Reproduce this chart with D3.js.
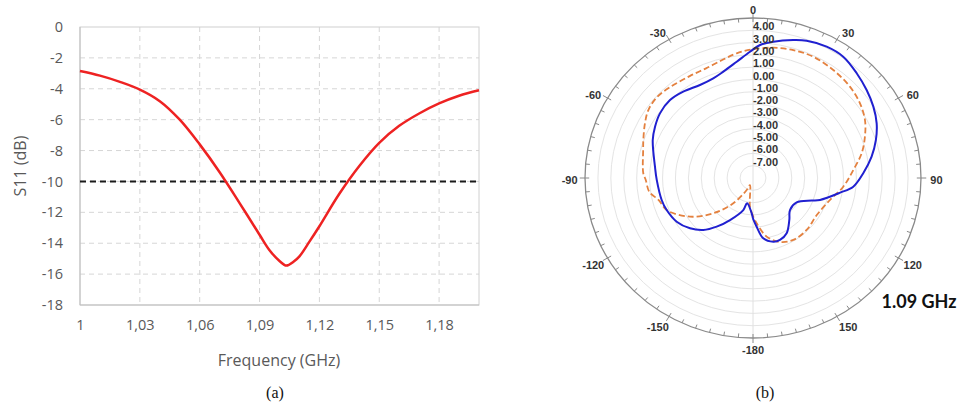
<!DOCTYPE html>
<html><head><meta charset="utf-8">
<script src="https://cdn.jsdelivr.net/npm/d3@7"></script>
<style>body{margin:0;background:#fff}svg{display:block}</style>
</head><body>
<svg id="c" width="957" height="405"></svg>
<script>
// ---------- data: (a) S11 ----------
const freq = [1.00,1.01,1.02,1.03,1.04,1.05,1.06,1.07,1.08,1.09,1.095,1.10,1.1035,1.107,1.11,1.115,1.12,1.13,1.14,1.15,1.16,1.17,1.18,1.19,1.20];
const s11  = [-2.85,-3.15,-3.55,-4.05,-4.8,-6.0,-7.6,-9.4,-11.4,-13.45,-14.45,-15.15,-15.45,-15.2,-14.85,-13.9,-12.9,-10.8,-9.0,-7.5,-6.4,-5.6,-4.95,-4.45,-4.1];
const xTickValues = [1,1.03,1.06,1.09,1.12,1.15,1.18];
const xTickLabels = ["1","1,03","1,06","1,09","1,12","1,15","1,18"];
const yTickValues = [0,-2,-4,-6,-8,-10,-12,-14,-16,-18];
const threshold = [-10];

// ---------- data: (b) radiation pattern at 1.09 GHz ----------
const blueAngle = [-180,-178,-167.4,-163.9,-152.5,-144.6,-137.7,-130,-121,-111.3,-104.2,-91.2,-83.1,-68.3,-61.2,-53.9,-45.4,-37.6,-28.5,-20.8,-14.9,-7.6,-1.3,2.9,8.1,15.5,20.4,28.1,35.3,43.3,50.9,58.1,65.1,72,79.3,87.4,95.2,100,109,112,120.5,132.3,140.5,149.9,157.5,163.1,170.8,175.9,180];
const blueGain  = [-4.7,-5.13,-5.9,-5.29,-4.15,-3.15,-2.29,-1.64,-1.11,-0.83,-0.71,-0.55,-0.36,0.35,0.65,0.91,1.02,0.85,0.6,0.66,0.94,1.53,2.26,2.82,3.19,3.63,3.9,4.1,4.08,3.7,3.33,2.97,2.55,2.0,1.34,0.54,-0.21,-1.15,-2.52,-3.1,-4.08,-4.13,-3.58,-2.81,-2.55,-2.59,-3.04,-4.03,-4.7];
const orangeAngle = [-180,-174.2,-157.5,-153.4,-143.4,-133,-122.8,-111.3,-104,-98,-91.1,-87.4,-75,-70,-62,-55.7,-48.4,-40.9,-30.6,-22.2,-13.5,-7.1,0.1,8.4,16.7,25.3,35.3,45.3,53.8,61.5,68.8,76.6,85.2,95.8,106.7,121.4,135.5,148.2,158.1,167.5,175.6,180];
const orangeGain  = [-4.9,-5.66,-7.38,-6.91,-5.44,-3.8,-2.2,-0.83,-0.5,0.1,0.3,0.5,0.8,1.03,1.47,1.8,1.92,1.78,1.62,1.62,1.9,2.21,2.46,2.7,2.85,2.9,2.75,2.55,2.26,1.86,1.29,0.64,-0.21,-0.98,-1.78,-2.22,-2.08,-2.08,-2.4,-3.12,-4.31,-4.9];
const ringValues = [4,3,2,1,0,-1,-2,-3,-4,-5,-6,-7];
const angleLabelValues = [0,30,60,90,120,150,180,-150,-120,-90,-60,-30];
const angleLabelTexts  = ["0","30","60","90","120","150","-180","-150","-120","-90","-60","-30"];

const svg = d3.select("#c");

// ================= (a) =================
const x = d3.scaleLinear().domain([1,1.2]).range([80,479]);
const y = d3.scaleLinear().domain([0,-18]).range([27,305]);
const A = svg.append("g");
A.selectAll(".hg").data(yTickValues.filter(v=>v!==0 && v!==-18)).join("line")
  .attr("x1",x(1)).attr("x2",x(1.2)).attr("y1",d=>y(d)).attr("y2",d=>y(d))
  .attr("stroke","#d6d6d6").attr("stroke-width",1).attr("stroke-dasharray","5,4");
A.selectAll(".vg").data(xTickValues.filter(v=>v!==1)).join("line")
  .attr("x1",d=>x(d)).attr("x2",d=>x(d)).attr("y1",y(0)).attr("y2",y(-18))
  .attr("stroke","#d6d6d6").attr("stroke-width",1).attr("stroke-dasharray","5,4");
A.append("rect").attr("x",x(1)).attr("y",y(0)).attr("width",x(1.2)-x(1)).attr("height",y(-18)-y(0))
  .attr("fill","none").attr("stroke","#d0d0d0").attr("stroke-width",1);
A.append("line").attr("x1",x(1)).attr("x2",x(1)).attr("y1",y(0)).attr("y2",y(-18)).attr("stroke","#bfbfbf");
A.append("line").attr("x1",x(1)).attr("x2",x(1.2)).attr("y1",y(-18)).attr("y2",y(-18)).attr("stroke","#bfbfbf");
const yAx = A.append("g").attr("transform",`translate(${x(1)},0)`)
  .call(d3.axisLeft(y).tickValues(yTickValues).tickSize(0).tickPadding(17).tickFormat(d=>String(d)));
yAx.select(".domain").remove();
yAx.selectAll("text").attr("fill","#595959").style("font-family","'Open Sans',sans-serif").style("font-size","14.5px");
const xAx = A.append("g").attr("transform",`translate(0,${y(-18)})`)
  .call(d3.axisBottom(x).tickValues(xTickValues).tickSize(0).tickPadding(15).tickFormat((d,i)=>xTickLabels[i]));
xAx.select(".domain").remove();
xAx.selectAll("text").attr("fill","#595959").style("font-family","'Open Sans',sans-serif").style("font-size","14.5px");
A.selectAll(".thr").data(threshold).join("line")
  .attr("x1",x(1)).attr("x2",x(1.2)).attr("y1",d=>y(d)).attr("y2",d=>y(d))
  .attr("stroke","#1a1a1a").attr("stroke-width",2).attr("stroke-dasharray","6,4");
A.append("path").datum(freq.map((f,i)=>[f,s11[i]]))
  .attr("d",d3.line().x(d=>x(d[0])).y(d=>y(d[1])).curve(d3.curveCatmullRom.alpha(0.5)))
  .attr("fill","none").attr("stroke","#ee2222").attr("stroke-width",2.5);
A.append("text").attr("x",279).attr("y",366).attr("text-anchor","middle")
  .attr("fill","#595959").style("font-family","'Open Sans',sans-serif").style("font-size","16px").text("Frequency (GHz)");
A.append("text").attr("transform","translate(26,166) rotate(-90)").attr("text-anchor","middle")
  .attr("fill","#595959").style("font-family","'Open Sans',sans-serif").style("font-size","16px").text("S11 (dB)");
svg.append("text").attr("x",275).attr("y",398).attr("text-anchor","middle")
  .style("font-family","'Liberation Serif',serif").style("font-size","16px").attr("fill","#111").text("(a)");

// ================= (b) =================
const cx = 753, cy = 178, sx = 1.05, R = 160;
const r = d3.scaleLinear().domain([-8,5]).range([0,R]);
const P = svg.append("g").attr("transform",`translate(${cx},${cy})`);
const rad = a => a*Math.PI/180;
const px = (a,v) => sx*r(v)*Math.sin(rad(a));
const py = (a,v) => -r(v)*Math.cos(rad(a));
P.selectAll(".ring").data(ringValues).join("ellipse")
  .attr("rx",d=>sx*r(d)).attr("ry",d=>r(d)).attr("fill","none").attr("stroke","#e4e4e4").attr("stroke-width",1);
P.append("line").attr("x1",0).attr("x2",0).attr("y1",-R).attr("y2",R).attr("stroke","#e0e0e0");
P.append("ellipse").attr("rx",sx*R).attr("ry",R).attr("fill","none").attr("stroke","#8a8a8a").attr("stroke-width",1.3);
const tickAngles = d3.range(-180,180,5);
P.selectAll(".tk").data(tickAngles).join("line")
  .attr("x1",d=>sx*(d%30===0?R+5:R)*Math.sin(rad(d))).attr("y1",d=>-(d%30===0?R+5:R)*Math.cos(rad(d)))
  .attr("x2",d=>sx*(R-4)*Math.sin(rad(d))).attr("y2",d=>-(R-4)*Math.cos(rad(d)))
  .attr("stroke","#8a8a8a").attr("stroke-width",1);
const polarLine = d3.line().curve(d3.curveCatmullRom.alpha(0.5));
P.append("path").attr("d",polarLine(orangeAngle.map((a,i)=>[px(a,orangeGain[i]),py(a,orangeGain[i])])))
  .attr("fill","none").attr("stroke","#e4813f").attr("stroke-width",1.8).attr("stroke-dasharray","6,3");
P.append("path").attr("d",polarLine(blueAngle.map((a,i)=>[px(a,blueGain[i]),py(a,blueGain[i])])))
  .attr("fill","none").attr("stroke","#2020d0").attr("stroke-width",2);
P.selectAll(".rl").data(ringValues).join("text")
  .attr("x",0).attr("y",d=>-r(d)).attr("text-anchor","start")
  .style("font-family","'Liberation Sans',Arial,sans-serif").style("font-size","11px").style("font-weight","bold")
  .attr("fill","#333").text(d=>d.toFixed(2));
P.selectAll(".al").data(angleLabelValues).join("text")
  .attr("x",(d)=>{const s=Math.sin(rad(d)); return sx*168*s + (Math.abs(s)<0.01?0:(s>0?7:-7));})
  .attr("y",d=>-168*Math.cos(rad(d)) + 2 - 2*Math.cos(rad(d)))
  .attr("text-anchor","middle").attr("dominant-baseline","central")
  .style("font-family","'Liberation Sans',Arial,sans-serif").style("font-size","11px").style("font-weight","bold")
  .attr("fill","#333").text((d,i)=>angleLabelTexts[i]);
svg.append("text").attr("x",919).attr("y",308).attr("text-anchor","middle")
  .style("font-family","Lato,'Open Sans',sans-serif").style("font-size","18px").style("font-weight","bold")
  .attr("fill","#111").text("1.09 GHz");
svg.append("text").attr("x",765).attr("y",398).attr("text-anchor","middle")
  .style("font-family","'Liberation Serif',serif").style("font-size","16px").attr("fill","#111").text("(b)");
</script>
</body></html>
